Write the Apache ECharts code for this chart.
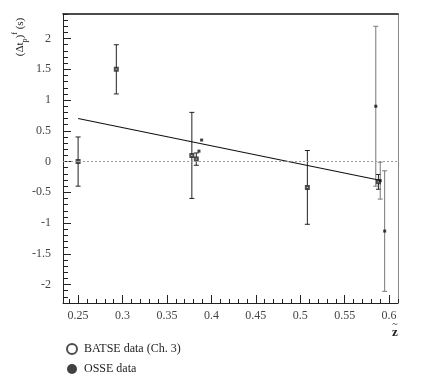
<!DOCTYPE html>
<html>
<head>
<meta charset="utf-8">
<title>dt vs z</title>
<script src="https://cdn.jsdelivr.net/npm/echarts@6/dist/echarts.min.js"></script>
<style>
  html, body { margin: 0; padding: 0; background: #fff; }
  #container { width: 422px; height: 382px; }
</style>
</head>
<body>
<div id="container"></div>
<script>
// tick labels
var xTicks = [0.25, 0.3, 0.35, 0.4, 0.45, 0.5, 0.55, 0.6];
var yTicks = [-2, -1.5, -1, -0.5, 0, 0.5, 1, 1.5, 2];

// BATSE data (open squares): z, dt, error
var batseZ   = [0.25, 0.293, 0.378, 0.383, 0.508, 0.588];
var batseDt  = [0.0, 1.5, 0.1, 0.04, -0.42, -0.33];
var batseErr = [0.4, 0.4, 0.7, 0.1, 0.6, 0.12];

// OSSE data (filled squares)
var osseZ   = [0.386, 0.389, 0.585, 0.590, 0.595];
var osseDt  = [0.17, 0.35, 0.9, -0.31, -1.13];
var osseErr = [0, 0, 1.3, 0.3, 0.98];

// fitted line end points
var fitZ  = [0.25, 0.588];
var fitDt = [0.70, -0.30];

var X_MIN = 0.233, X_MAX = 0.61;
var Y_MIN = -2.3, Y_MAX = 2.4;
var FONT = '"Liberation Serif", "DejaVu Serif", serif';

function minorList(a, b, step){
  var out = [];
  for (var v = a; v <= b + 1e-9; v += step) out.push(Math.round(v * 100) / 100);
  return out;
}

function pts(xs, ys, es){
  var d = [];
  for (var i = 0; i < xs.length; i++) d.push(es ? [xs[i], ys[i], es[i]] : [xs[i], ys[i]]);
  return d;
}

function errBar(color){
  return function(params, api){
    var x = api.value(0), y = api.value(1), e = api.value(2);
    if (!e) return null;
    var top = api.coord([x, y + e]);
    var bot = api.coord([x, y - e]);
    var st = { stroke: color, lineWidth: 1 };
    return {
      type: 'group',
      children: [
        { type: 'line', shape: { x1: top[0], y1: top[1], x2: bot[0], y2: bot[1] }, style: st },
        { type: 'line', shape: { x1: top[0] - 2.5, y1: top[1], x2: top[0] + 2.5, y2: top[1] }, style: st },
        { type: 'line', shape: { x1: bot[0] - 2.5, y1: bot[1], x2: bot[0] + 2.5, y2: bot[1] }, style: st }
      ]
    };
  };
}

var myChart = echarts.init(document.getElementById('container'));
var option = {
  animation: false,
  backgroundColor: '#fff',
  grid: { left: 63, right: 24, top: 14, bottom: 79 },
  legend: {
    orient: 'vertical',
    left: 61, top: 338,
    itemGap: 8, itemWidth: 10, itemHeight: 10,
    selectedMode: false,
    textStyle: { fontFamily: FONT, fontSize: 12, color: '#222', padding: [0, 0, 0, 2] },
    data: [
      { name: 'BATSE data (Ch. 3)', icon: 'emptyCircle' },
      { name: 'OSSE data', icon: 'circle' }
    ]
  },
  xAxis: [
    {
      type: 'value', min: X_MIN, max: X_MAX, position: 'bottom',
      axisLine: { onZero: false, lineStyle: { color: '#222', width: 1 } },
      splitLine: { show: false },
      axisTick: { inside: true, length: 8, customValues: xTicks, lineStyle: { color: '#222' } },
      axisLabel: { customValues: xTicks, margin: 7, fontFamily: FONT, fontSize: 12, color: '#444' }
    },
    {
      type: 'value', min: X_MIN, max: X_MAX, position: 'bottom',
      axisLine: { show: false, onZero: false }, splitLine: { show: false },
      axisTick: { inside: true, length: 4, customValues: minorList(0.24, 0.61, 0.01), lineStyle: { color: '#222' } },
      axisLabel: { show: false }
    },
    {
      type: 'value', min: X_MIN, max: X_MAX, position: 'top',
      axisLine: { show: true, onZero: false, lineStyle: { color: '#111', width: 1.5 } },
      splitLine: { show: false }, axisTick: { show: false }, axisLabel: { show: false }
    }
  ],
  yAxis: [
    {
      type: 'value', min: Y_MIN, max: Y_MAX, position: 'left',
      axisLine: { show: true, onZero: false, lineStyle: { color: '#222', width: 1 } },
      splitLine: { show: false },
      axisTick: { inside: true, length: 8, customValues: yTicks, lineStyle: { color: '#222' } },
      axisLabel: { customValues: yTicks, margin: 12, fontFamily: FONT, fontSize: 12, color: '#444' }
    },
    {
      type: 'value', min: Y_MIN, max: Y_MAX, position: 'left',
      axisLine: { show: false, onZero: false }, splitLine: { show: false },
      axisTick: { inside: true, length: 5, customValues: minorList(-2.3, 2.4, 0.1), lineStyle: { color: '#222' } },
      axisLabel: { show: false }
    },
    {
      type: 'value', min: Y_MIN, max: Y_MAX, position: 'right',
      axisLine: { show: true, onZero: false, lineStyle: { color: '#888', width: 1 } },
      splitLine: { show: false }, axisTick: { show: false }, axisLabel: { show: false }
    }
  ],
  series: [
    {
      name: 'fit', type: 'line', data: pts(fitZ, fitDt), showSymbol: false, symbol: 'none',
      lineStyle: { color: '#111', width: 1.2 }, silent: true,
      markLine: {
        silent: true, symbol: 'none', label: { show: false },
        lineStyle: { color: '#999', type: [2, 2], width: 1 },
        data: [{ yAxis: 0 }]
      }
    },
    { name: 'batseErr', type: 'custom', renderItem: errBar('#222'), data: pts(batseZ, batseDt, batseErr), silent: true },
    { name: 'osseErr', type: 'custom', renderItem: errBar('#777'), data: pts(osseZ, osseDt, osseErr), silent: true },
    {
      name: 'BATSE data (Ch. 3)', type: 'scatter', symbol: 'emptyRect', symbolSize: 3,
      itemStyle: { color: '#222', borderColor: '#222', borderWidth: 1 },
      data: pts(batseZ, batseDt)
    },
    {
      name: 'OSSE data', type: 'scatter', symbol: 'rect', symbolSize: 3,
      itemStyle: { color: '#111' },
      data: pts(osseZ, osseDt)
    }
  ],
  graphic: [
    {
      type: 'text', x: 20, y: 37, rotation: Math.PI / 2,
      style: {
        text: '(Δt{sub|p}){sup|f} (s)',
        fontFamily: FONT, fontSize: 11, fill: '#222',
        align: 'center', verticalAlign: 'middle',
        rich: {
          sub: { fontFamily: FONT, fontSize: 8, verticalAlign: 'bottom', lineHeight: 18, fill: '#222' },
          sup: { fontFamily: FONT, fontSize: 8, verticalAlign: 'top', lineHeight: 18, fill: '#222' }
        }
      }
    },
    { type: 'text', x: 395, y: 324, style: { text: '~', fontFamily: FONT, fontSize: 10, fill: '#222', align: 'center', verticalAlign: 'middle' } },
    { type: 'text', x: 395, y: 333, style: { text: 'z', fontFamily: FONT, fontSize: 13, fontWeight: 'bold', fill: '#222', align: 'center', verticalAlign: 'middle' } }
  ]
};
myChart.setOption(option);
</script>
</body>
</html>
